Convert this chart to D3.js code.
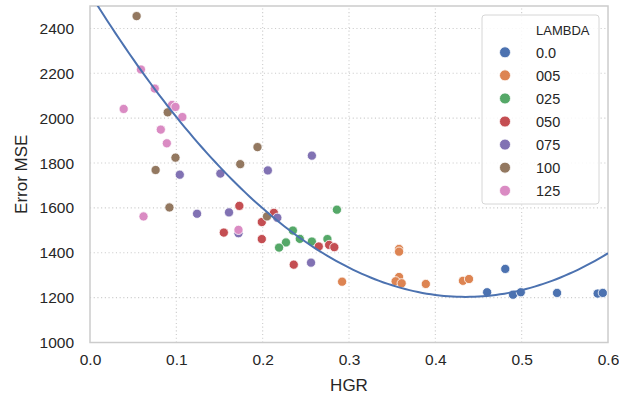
<!DOCTYPE html>
<html>
<head>
<meta charset="utf-8">
<script src="https://cdn.jsdelivr.net/npm/d3@7"></script>
<style>
  body { margin: 0; background: #fff; }
  svg { font-family: "Liberation Sans", Arial, sans-serif; }
</style>
</head>
<body>
<div id="chart"></div>
<script>
// Series labels and colours (seaborn "deep")
const Lambdas = ["0.0", "005", "025", "050", "075", "100", "125"];
const Palette = ["#4c72b0", "#dd8452", "#55a868", "#c44e52", "#8172b3", "#937860", "#da8bc3"];
// HGR / Error MSE per lambda
const Hgr00 = [0.481, 0.460, 0.490, 0.499, 0.541, 0.588, 0.594];
const Mse00 = [1328, 1224, 1213, 1224, 1221, 1218, 1221];
const Hgr05 = [0.292, 0.358, 0.358, 0.358, 0.354, 0.361, 0.389, 0.432, 0.439];
const Mse05 = [1271, 1417, 1405, 1292, 1273, 1264, 1261, 1275, 1283];
const Hgr25 = [0.286, 0.235, 0.243, 0.257, 0.275, 0.227, 0.219];
const Mse25 = [1592, 1499, 1462, 1450, 1461, 1446, 1423];
const Hgr50 = [0.173, 0.213, 0.199, 0.155, 0.199, 0.236, 0.265, 0.277, 0.283];
const Mse50 = [1609, 1578, 1537, 1490, 1461, 1347, 1428, 1435, 1425];
const Hgr75 = [0.257, 0.151, 0.206, 0.161, 0.217, 0.172, 0.256, 0.104, 0.124];
const Mse75 = [1833, 1753, 1767, 1580, 1556, 1487, 1356, 1748, 1574];
const Hgr100 = [0.054, 0.090, 0.099, 0.076, 0.092, 0.194, 0.174, 0.205];
const Mse100 = [2455, 2026, 1824, 1769, 1602, 1871, 1795, 1562];
const Hgr125 = [0.059, 0.075, 0.095, 0.099, 0.039, 0.107, 0.082, 0.089, 0.062, 0.172];
const Mse125 = [2217, 2132, 2059, 2050, 2041, 2005, 1949, 1888, 1562, 1502];
// Order 2 regression curve (coefficients)
const FitCoef = [2556, -6220, 7150];
const XTicks = [0.0, 0.1, 0.2, 0.3, 0.4, 0.5, 0.6];
const YTicks = [1000, 1200, 1400, 1600, 1800, 2000, 2200, 2400];

const HgrSeries = [Hgr00, Hgr05, Hgr25, Hgr50, Hgr75, Hgr100, Hgr125];
const MseSeries = [Mse00, Mse05, Mse25, Mse50, Mse75, Mse100, Mse125];

// Flatten the dataset
var Points = [];
HgrSeries.forEach((Xs, I) => Xs.forEach((X, J) => Points.push({ Group: I, X: X, Y: MseSeries[I][J] })));

var Width = 619, Height = 402;
var Margin = { Top: 6, Right: 11, Bottom: 59.5, Left: 90 };
var SVG = d3.select("#chart").append("svg").attr("width", Width).attr("height", Height);

var X = d3.scaleLinear().domain([0, 0.6]).range([Margin.Left, Width - Margin.Right]);
var Y = d3.scaleLinear().domain([1000, 2500]).range([Height - Margin.Bottom, Margin.Top]);

SVG.append("clipPath").attr("id", "plot-clip").append("rect")
    .attr("x", X(0)).attr("y", Y(2500)).attr("width", X(0.6) - X(0)).attr("height", Y(1000) - Y(2500));

// Grid lines
var Grid = SVG.append("g").attr("stroke", "#cccccc").attr("stroke-width", 1.1).attr("stroke-dasharray", "1.1,2.6");
Grid.selectAll(".gx").data(XTicks.slice(1, -1)).enter().append("line")
    .attr("x1", D => X(D)).attr("x2", D => X(D)).attr("y1", Y(1000)).attr("y2", Y(2500));
Grid.selectAll(".gy").data(YTicks.slice(1)).enter().append("line")
    .attr("x1", X(0)).attr("x2", X(0.6)).attr("y1", D => Y(D)).attr("y2", D => Y(D));

// Axes
var XAxis = SVG.append("g").attr("transform", `translate(0,${Y(1000)})`)
    .call(d3.axisBottom(X).tickValues(XTicks).tickFormat(d3.format(".1f")).tickSize(0).tickPadding(11));
var YAxis = SVG.append("g").attr("transform", `translate(${X(0)},0)`)
    .call(d3.axisLeft(Y).tickValues(YTicks).tickFormat(d3.format("d")).tickSize(0).tickPadding(16));
[XAxis, YAxis].forEach(Axis => {
    Axis.select(".domain").remove();
    Axis.selectAll("text").attr("font-size", "15.5px").attr("fill", "#262626").attr("font-family", "Liberation Sans, Arial, sans-serif");
});

// Frame
SVG.append("rect").attr("x", X(0)).attr("y", Y(2500)).attr("width", X(0.6) - X(0)).attr("height", Y(1000) - Y(2500))
    .attr("fill", "none").attr("stroke", "#cccccc").attr("stroke-width", 1.5);

// Scatter points
SVG.append("g").selectAll("circle").data(Points).enter().append("circle")
    .attr("cx", D => X(D.X)).attr("cy", D => Y(D.Y)).attr("r", 4.6)
    .attr("fill", D => Palette[D.Group]).attr("stroke", "#ffffff").attr("stroke-width", 0.8);

// Regression curve
var CurveXs = d3.range(0, 0.6001, 0.005);
SVG.append("path").datum(CurveXs)
    .attr("clip-path", "url(#plot-clip)")
    .attr("fill", "none").attr("stroke", Palette[0]).attr("stroke-width", 2)
    .attr("d", d3.line().x(D => X(D)).y(D => Y(FitCoef[0] + FitCoef[1] * D + FitCoef[2] * D * D)));

// Axis labels
SVG.append("text").attr("x", (X(0) + X(0.6)) / 2).attr("y", 391).attr("text-anchor", "middle")
    .attr("font-size", "17px").attr("fill", "#262626").text("HGR");
SVG.append("text").attr("transform", `translate(27,${(Y(1000) + Y(2500)) / 2}) rotate(-90)`).attr("text-anchor", "middle")
    .attr("font-size", "17px").attr("fill", "#262626").text("Error MSE");

// Legend
var Legend = SVG.append("g").attr("transform", "translate(482,15)");
Legend.append("rect").attr("width", 117).attr("height", 189).attr("rx", 3)
    .attr("fill", "rgba(255,255,255,0.85)").attr("stroke", "#d6d6d6").attr("stroke-width", 1);
Legend.append("text").attr("x", 54).attr("y", 19.5).attr("font-size", "13px").attr("fill", "#262626").text("LAMBDA");
var Rows = Legend.selectAll(".row").data(Lambdas).enter().append("g")
    .attr("transform", (D, I) => `translate(0,${37.3 + I * 23.07})`);
Rows.append("circle").attr("cx", 23).attr("cy", 0).attr("r", 5.5)
    .attr("fill", (D, I) => Palette[I]).attr("stroke", "#ffffff").attr("stroke-width", 0.8);
Rows.append("text").attr("x", 54).attr("y", 5.2).attr("font-size", "14.5px").attr("fill", "#262626").text(D => D);
</script>
</body>
</html>
